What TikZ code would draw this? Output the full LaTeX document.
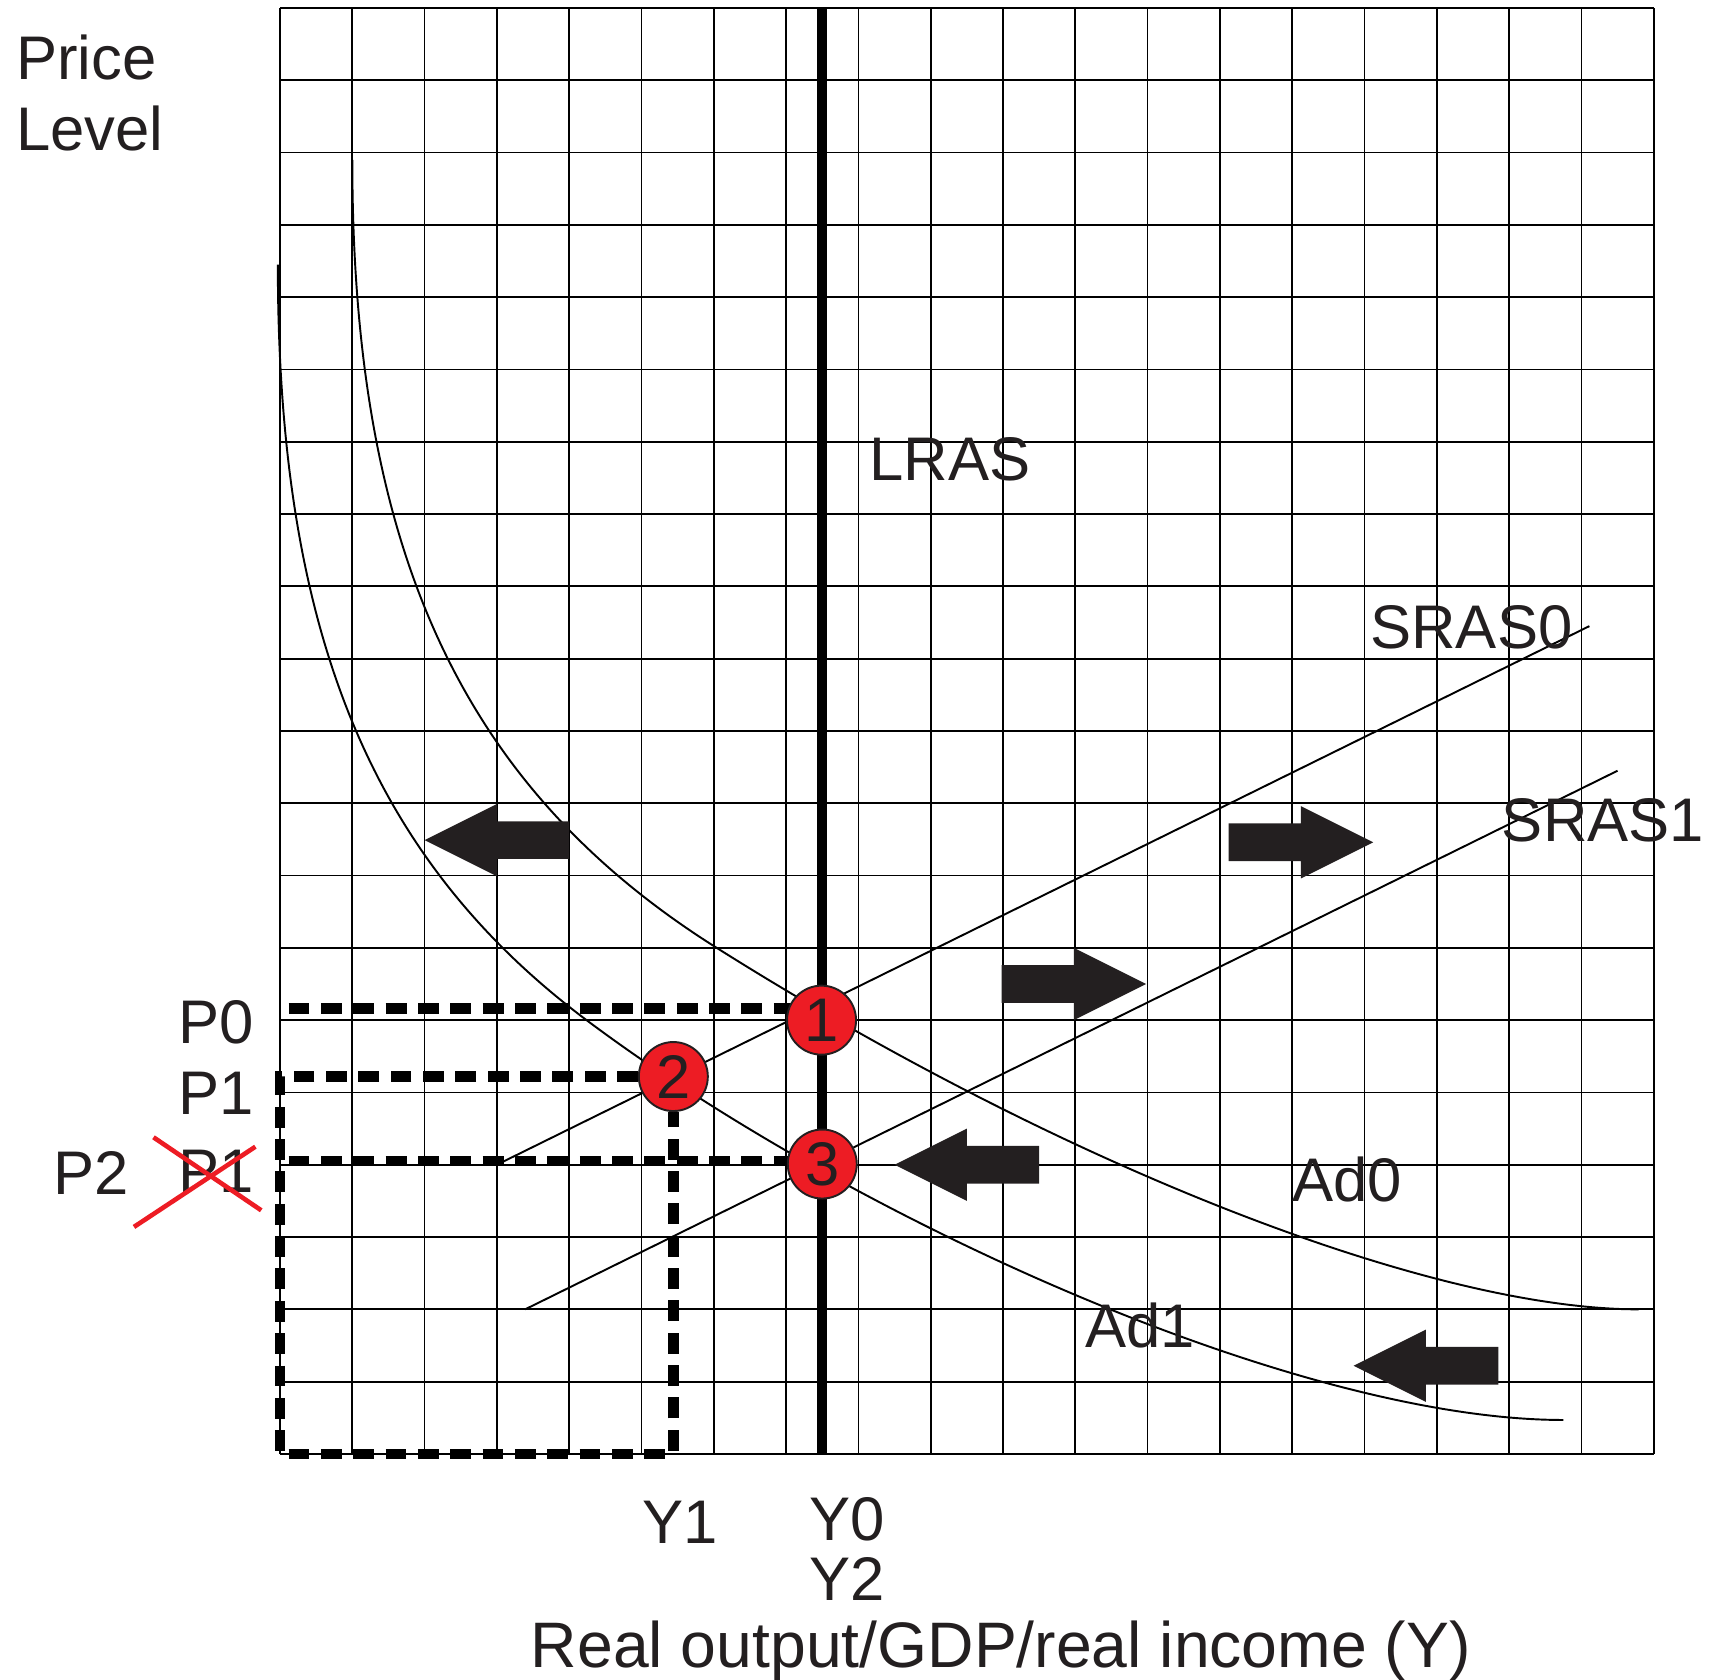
\documentclass[tikz,border=0pt]{standalone}
\usepackage{fontspec}
\setmainfont{Liberation Sans}
\usetikzlibrary{backgrounds}
\definecolor{ink}{RGB}{35,31,32}
\definecolor{shiftred}{RGB}{237,28,36}

\begin{document}
\begin{tikzpicture}[
  x=0.66cm, y=0.66cm, color=ink,
  font=\fontsize{16}{18.6}\selectfont,
  gridline/.style={line width=0.45pt},
  curve/.style={line width=0.5pt},
  lras/.style={line width=2.7pt},
  guide/.style={line width=2.7pt, dash pattern=on 5.4pt off 3pt},
  eqpt/.style={circle, fill=shiftred, draw=ink, line width=0.5pt, minimum size=6.3mm, inner sep=0pt},
  lbl/.style={anchor=base west, inner sep=0pt},
  cross/.style={draw=shiftred, line width=1.2pt},
  shiftarrow/.pic={\fill (0,0) -- (1,0.5) -- (1,0.26) -- (2,0.26) -- (2,-0.26) -- (1,-0.26) -- (1,-0.5) -- cycle;}
]
\useasboundingbox (-3.873,-3.126) rectangle (19.889,20.11);

% equilibrium points
\node[eqpt] (n1) at (7.49,6.0) {1};
\node[eqpt] (n2) at (5.44,5.22) {2};
\node[eqpt] (n3) at (7.5,4.01) {3};
\coordinate (o) at (0,0);
\coordinate (p0) at (0.12,6.16);
\coordinate (p2) at (0.12,4.05);

\begin{scope}[on background layer]
\draw[gridline, step=1] (0,0) grid (19,20);
\draw[lras] (7.5,0) -- (7.5,20);
% Ad0
\draw[curve] (1.0,17.9) .. controls (1.0,12.5) and (2.51,9.22) .. (6.04,7.0)
  .. controls (10.8,4.0) and (15.9,2.0) .. (18.79,2.0);
% Ad1
\draw[curve] (-0.03,16.45) .. controls (-0.03,11.38) and (1.25,8.24) .. (4.24,6.0)
  .. controls (7.93,3.24) and (14.07,0.47) .. (17.75,0.47);
% SRAS0, SRAS1
\draw[curve] (3.06,4.03) -- (18.11,11.45);
\draw[curve] (3.39,2.0) -- (18.5,9.45);
% price / output guides
\draw[guide] (p0) -- (p0 -| n1);
\draw[guide] (p2) -- (p2 -| n3);
\draw[guide] (n2) -- (n2 -| o) -- (o) -- (o -| n2) -- (n2);
\end{scope}

% shift arrows
\pic at (2.0,8.49) {shiftarrow};
\pic[rotate=180] at (11.98,6.5) {shiftarrow};
\pic[rotate=180] at (15.12,8.46) {shiftarrow};
\pic at (8.5,4.0) {shiftarrow};
\pic at (14.85,1.22) {shiftarrow};

% labels
\node[anchor=north west, inner sep=0pt, align=left] (plevel) at (-3.66,19.64) {Price\\Level};
\node[lbl] (lraslbl) at (8.14,13.47) {LRAS};
\node[lbl] (sras0) at (15.07,11.14) {SRAS0};
\node[lbl] (sras1) at (16.89,8.47) {SRAS1};
\node[lbl] (ad0) at (13.99,3.49) {Ad0};
\node[lbl] (ad1) at (11.13,1.47) {Ad1};
\node[lbl] (pzero) at (-1.41,5.68) {P0};
\node[lbl] (pone) at (-1.41,4.70) {P1};
\node[lbl] (poneold) at (-1.41,3.62) {P1};
\node[lbl] (ptwo) at (-3.15,3.59) {P2};
\draw[cross] (-2.02,3.14) -- (-0.34,4.25);
\draw[cross] (-1.75,4.38) -- (-0.26,3.37);
\node[anchor=base, inner sep=0pt] (yone) at (5.54,-1.24) {Y1};
\node[anchor=base, inner sep=0pt] (yzero) at (7.85,-1.19) {Y0};
\node[anchor=base, inner sep=0pt] (ytwo) at (7.85,-2.02) {Y2};
\node[anchor=base, inner sep=0pt, font=\fontsize{16.7}{19}\selectfont] (xaxis) at (9.97,-2.96) {Real output/GDP/real income (Y)};
\end{tikzpicture}
\end{document}
